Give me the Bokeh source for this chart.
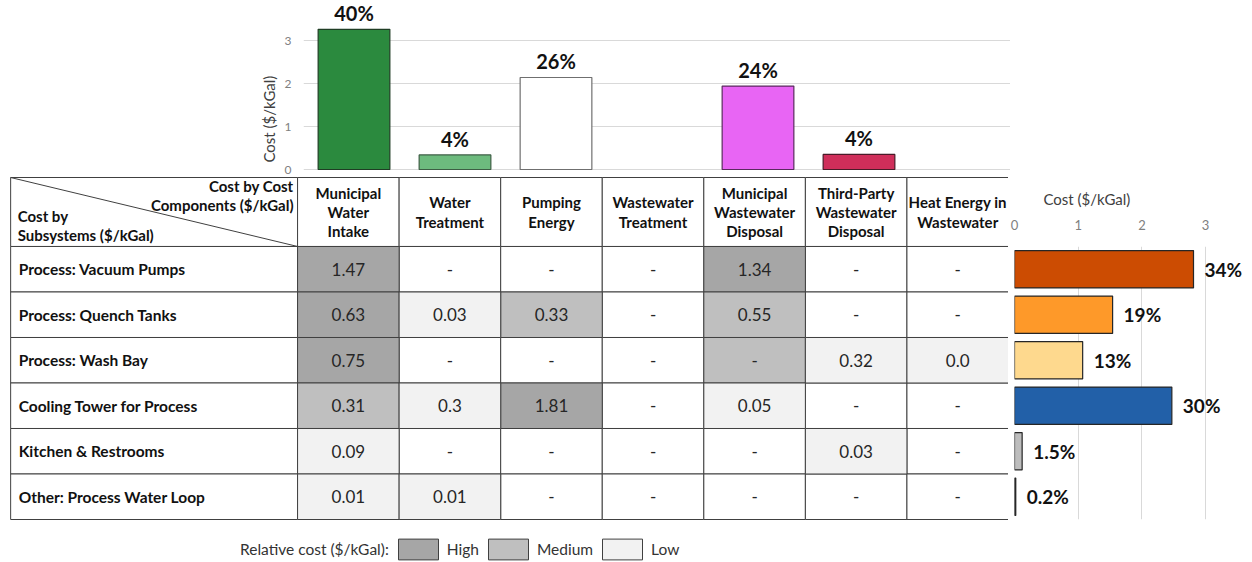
from bokeh.plotting import figure
from bokeh.layouts import column, row
from bokeh.models import (Range1d, FactorRange, FixedTicker, Legend, LegendItem,
                          ColumnDataSource, Title)
from bokeh.core.properties import value
from bokeh.embed import file_html
from bokeh.resources import INLINE

# ---------------- data ----------------
components = ["Municipal Water Intake", "Water Treatment", "Pumping Energy",
              "Wastewater Treatment", "Municipal Wastewater Disposal",
              "Third-Party Wastewater Disposal", "Heat Energy in Wastewater"]
component_headers = ["Municipal\nWater\nIntake", "Water\nTreatment", "Pumping\nEnergy",
                     "Wastewater\nTreatment", "Municipal\nWastewater\nDisposal",
                     "Third-Party\nWastewater\nDisposal", "Heat Energy in\nWastewater"]
component_cost = [3.26, 0.34, 2.14, 0.0, 1.94, 0.35, 0.0]
component_share = ["40%", "4%", "26%", "", "24%", "4%", ""]

subsystems = ["Process: Vacuum Pumps", "Process: Quench Tanks", "Process: Wash Bay",
              "Cooling Tower for Process", "Kitchen & Restrooms", "Other: Process Water Loop"]
subsystem_cost = [2.81, 1.54, 1.07, 2.47, 0.12, 0.02]
subsystem_share = ["34%", "19%", "13%", "30%", "1.5%", "0.2%"]

cell_values = [
    ["1.47", "-", "-", "-", "1.34", "-", "-"],
    ["0.63", "0.03", "0.33", "-", "0.55", "-", "-"],
    ["0.75", "-", "-", "-", "-", "0.32", "0.0"],
    ["0.31", "0.3", "1.81", "-", "0.05", "-", "-"],
    ["0.09", "-", "-", "-", "-", "0.03", "-"],
    ["0.01", "0.01", "-", "-", "-", "-", "-"],
]
cell_levels = [
    ["High", "", "", "", "High", "", ""],
    ["High", "Low", "Medium", "", "Medium", "", ""],
    ["High", "", "", "", "Medium", "Low", "Low"],
    ["Medium", "Low", "High", "", "Low", "", ""],
    ["Low", "", "", "", "", "Low", ""],
    ["Low", "Low", "", "", "", "", ""],
]
levels = ["High", "Medium", "Low"]
axis_ticks = [0, 1, 2, 3]

# ---------------- styles ----------------
FONT = "Lato"
component_colors = ["#2b8a3e", "#6dbb7e", "#ffffff", "#ffffff", "#e865f4", "#cf2e5a", "#ffffff"]
component_outline = ["#1f3d24", "#3d5e44", "#6f6f6f", "#6f6f6f", "#5a2a5e", "#4a1a28", "#6f6f6f"]
subsystem_colors = ["#cc4c02", "#fe9929", "#fed98e", "#2260a8", "#bdbdbd", "#000000"]
level_colors = {"High": "#a6a6a6", "Medium": "#bfbfbf", "Low": "#f2f2f2", "": "#ffffff"}
GRID = "#d9d9d9"
LINE = "#404040"

label_w = 2.825     # width of row-label column (in column units)
header_h = 1.516    # height of header row (in row units)


def clean(p):
    p.outline_line_color = None
    p.xgrid.grid_line_color = None
    p.ygrid.grid_line_color = None


# ---------------- top chart ----------------
top = figure(width=1010, height=175, x_range=FactorRange(*components),
             y_range=Range1d(-3 / 43, 169 / 43), output_backend="svg",
             toolbar_location=None, x_axis_location=None, y_axis_location="left",
             min_border_left=303, min_border_right=0, min_border_top=0, min_border_bottom=3,
             frame_align=False)
clean(top)
keep = [i for i, v in enumerate(component_cost) if v > 0]
src_top = ColumnDataSource(dict(
    x=[components[i] for i in keep], top=[component_cost[i] for i in keep],
    fill=[component_colors[i] for i in keep], line=[component_outline[i] for i in keep],
    label=[component_share[i] for i in keep]))
top.vbar(x="x", top="top", bottom=0, width=0.71, fill_color="fill", line_color="line",
         line_width=1.2, source=src_top)
top.text(x="x", y="top", text="label", source=src_top, text_align="center",
         text_baseline="bottom", y_offset=-4, text_font=value(FONT),
         text_font_style="bold", text_font_size="20px", text_color="#111111")
ya = top.yaxis[0]
ya.ticker = FixedTicker(ticks=axis_ticks)
ya.major_label_text_font = FONT
ya.major_label_text_font_size = "12px"
ya.major_label_text_color = "#7f7f7f"
ya.major_label_standoff = 12
ya.major_tick_out = 0
ya.major_tick_line_color = None
ya.minor_tick_line_color = None
ya.axis_line_color = None
top.ygrid.grid_line_color = GRID
top.ygrid.ticker = FixedTicker(ticks=axis_ticks)
top.add_layout(Title(text="Cost ($/kGal)", align="left", offset=10, text_font=FONT,
                     text_font_size="15px", text_font_style="normal",
                     text_color="#404040", standoff=8), "left")

# ---------------- table ----------------
table = figure(width=1008, height=387, x_range=Range1d(-2.925, 7.0),
               y_range=Range1d(6.945, -1.560), output_backend="svg",
               toolbar_location=None, x_axis_location=None, y_axis_location=None,
               min_border=0, frame_align=False)
clean(table)
nrows, ncols = len(subsystems), len(components)

# header cells
table.quad(left=[-label_w] + list(range(ncols)), right=[0] + [j + 1 for j in range(ncols)],
           top=[-header_h] * (ncols + 1), bottom=[0] * (ncols + 1),
           fill_color="#ffffff", line_color=LINE, line_width=1)
# row label cells
table.quad(left=[-label_w] * nrows, right=[0] * nrows, top=list(range(nrows)),
           bottom=[i + 1 for i in range(nrows)], fill_color="#ffffff",
           line_color=LINE, line_width=1)

level_renderers = {}
for lev in [""] + levels:
    L, R, T, B = [], [], [], []
    for i in range(nrows):
        for j in range(ncols):
            if cell_levels[i][j] == lev:
                L.append(j); R.append(j + 1); T.append(i); B.append(i + 1)
    level_renderers[lev] = table.quad(left=L, right=R, top=T, bottom=B,
                                      fill_color=level_colors[lev], line_color=LINE,
                                      line_width=1)

# diagonal in corner
table.segment(x0=[-label_w], y0=[-header_h], x1=[0], y1=[0], line_color=LINE, line_width=1)
table.text(x=[0], y=[-header_h * 0.74], text=["Cost by Cost\nComponents ($/kGal)"],
           text_align="right", text_baseline="middle", x_offset=-4,
           text_font=value(FONT), text_font_style="bold", text_font_size="15px",
           text_line_height=1.05, text_color="#111111")
table.text(x=[-label_w], y=[-header_h * 0.31], text=["Cost by\nSubsystems ($/kGal)"],
           text_align="left", text_baseline="middle", x_offset=7,
           text_font=value(FONT), text_font_style="bold", text_font_size="15px",
           text_line_height=1.05, text_color="#111111")
# column headers
table.text(x=[j + 0.5 for j in range(ncols)], y=[-header_h / 2] * ncols, text=component_headers,
           text_align="center", text_baseline="middle", text_font=value(FONT),
           text_font_style="bold", text_font_size="15px", text_line_height=1.08,
           text_color="#111111")
# row labels
table.text(x=[-label_w] * nrows, y=[i + 0.5 for i in range(nrows)], text=subsystems,
           text_align="left", text_baseline="middle", x_offset=8, text_font=value(FONT),
           text_font_style="bold", text_font_size="15.5px", text_color="#111111")
# values
vx, vy, vt = [], [], []
for i in range(nrows):
    for j in range(ncols):
        vx.append(j + 0.5); vy.append(i + 0.5); vt.append(cell_values[i][j])
table.text(x=vx, y=vy, text=vt, text_align="center", text_baseline="middle",
           text_font=value(FONT), text_font_size="17px", text_color="#262626")

legend = Legend(items=[LegendItem(label="Relative cost ($/kGal):", renderers=[])] +
                [LegendItem(label=lev, renderers=[level_renderers[lev]]) for lev in levels],
                orientation="horizontal", location=(186, 0), glyph_width=50, glyph_height=26,
                label_standoff=4, spacing=4, padding=0, margin=0, border_line_color=None,
                background_fill_alpha=0, label_text_font=FONT, label_text_font_size="15.5px",
                label_text_color="#333333")
table.add_layout(legend)

# ---------------- right chart ----------------
right = figure(width=244, height=350, x_range=Range1d(0, 3.736),
               y_range=FactorRange(*subsystems[::-1]), output_backend="svg",
               toolbar_location=None, x_axis_location="above", y_axis_location=None,
               min_border_left=6, min_border_right=0, min_border_top=71, min_border_bottom=6,
               frame_align=False)
clean(right)
src_r = ColumnDataSource(dict(y=subsystems, right=subsystem_cost, fill=subsystem_colors,
                              label=subsystem_share))
right.hbar(y="y", left=0, right="right", height=0.82, fill_color="fill",
           line_color="#262626", line_width=1.2, source=src_r)
right.text(x="right", y="y", text="label", source=src_r, text_align="left",
           text_baseline="middle", x_offset=11, text_font=value(FONT),
           text_font_style="bold", text_font_size="19px", text_color="#111111")
xa = right.xaxis[0]
xa.ticker = FixedTicker(ticks=axis_ticks)
xa.major_label_text_font = FONT
xa.major_label_text_font_size = "13px"
xa.major_label_text_color = "#7f7f7f"
xa.major_label_standoff = 17
xa.major_tick_out = 0
xa.major_tick_line_color = None
xa.minor_tick_line_color = None
xa.axis_line_color = None
right.xgrid.grid_line_color = GRID
right.xgrid.ticker = FixedTicker(ticks=[1, 2, 3])
right.add_layout(Title(text="Cost ($/kGal)", align="left", offset=29, text_font=FONT,
                       text_font_size="15px", text_font_style="normal",
                       text_color="#404040", standoff=18), "above")

layout = column(top, row(table, right))
open("out.html", "w").write(file_html(layout, INLINE))
